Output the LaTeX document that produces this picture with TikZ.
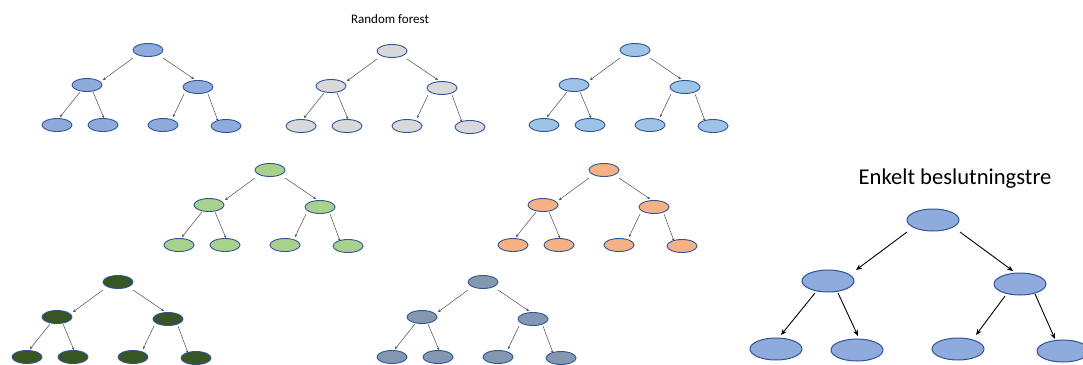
\documentclass[tikz,border=0pt]{standalone}
\usepackage{fontspec}
\setmainfont{Carlito}
\usetikzlibrary{arrows.meta,shapes.geometric}
\definecolor{outl}{HTML}{2F5597}
\definecolor{cblue}{HTML}{8FAADC}
\definecolor{cgray}{HTML}{D9D9D9}
\definecolor{clblue}{HTML}{9DC3E6}
\definecolor{cgreen}{HTML}{A9D18E}
\definecolor{corange}{HTML}{F4B183}
\definecolor{cdgreen}{HTML}{375623}
\definecolor{cslate}{HTML}{8497B0}
\tikzset{
  sm/.style={ellipse,draw=outl,line width=0.9pt,minimum width=30pt,minimum height=13pt,inner sep=0pt},
  bg/.style={ellipse,draw=outl,fill=cblue,line width=1pt,minimum width=52pt,minimum height=22pt,inner sep=0pt},
  sarr/.style={draw=black!70,line width=0.5pt,-{Stealth[length=2.8pt,width=2.6pt]}},
  barr/.style={draw=black,line width=0.9pt,-{Stealth[length=6pt,width=5pt]}},
}
\newcommand\smtree[4]{%
  \begin{scope}[shift={(#2,#3)}]
    \node[sm,fill=#4] (#1r) at (0,0) {};
    \node[sm,fill=#4] (#1a) at (-61,35) {};
    \node[sm,fill=#4] (#1b) at (50,37) {};
    \node[sm,fill=#4] (#1aa) at (-91,75) {};
    \node[sm,fill=#4] (#1ab) at (-45,75) {};
    \node[sm,fill=#4] (#1ba) at (15,75) {};
    \node[sm,fill=#4] (#1bb) at (78,76) {};
  \end{scope}
  \draw[sarr] ([shift={(-15,8)}]#1r.center) -- ([shift={(16,-5)}]#1a.center);
  \draw[sarr] ([shift={(15,8)}]#1r.center) -- ([shift={(-4,-8)}]#1b.center);
  \draw[sarr] ([shift={(-7,7)}]#1a.center) -- ([shift={(3,-8)}]#1aa.center);
  \draw[sarr] ([shift={(6,7)}]#1a.center) -- ([shift={(1,-7)}]#1ab.center);
  \draw[sarr] ([shift={(-14,7)}]#1b.center) -- ([shift={(10,-8)}]#1ba.center);
  \draw[sarr] ([shift={(10,7)}]#1b.center) -- ([shift={(-8,-5)}]#1bb.center);
}
\begin{document}
\begin{tikzpicture}[x=1pt,y=-1pt]
  \useasboundingbox (0,0) rectangle (1083,364);
  \node (rf) at (390,19) {\fontsize{13}{15}\selectfont Random forest};
  \smtree{ta}{148}{50}{cblue}
  \smtree{tb}{392}{51}{cgray}
  \smtree{tc}{635}{50}{clblue}
  \smtree{td}{270}{170}{cgreen}
  \smtree{te}{604}{170}{corange}
  \smtree{tf}{118}{282}{cdgreen}
  \smtree{tg}{483}{282}{cslate}
  % single decision tree
  \node (title) at (955,179) {\fontsize{22.6}{27}\selectfont Enkelt beslutningstre};
  \node[bg] (br) at (933,220) {};
  \node[bg] (ba) at (828,281) {};
  \node[bg] (bb) at (1020,284) {};
  \node[bg] (baa) at (776,349) {};
  \node[bg] (bab) at (857,350) {};
  \node[bg] (bba) at (958,349) {};
  \node[bg] (bbb) at (1063,351) {};
  \draw[barr] ([shift={(-26,12)}]br.center) -- ([shift={(28,-11)}]ba.center);
  \draw[barr] ([shift={(27,12)}]br.center) -- ([shift={(-7,-13)}]bb.center);
  \draw[barr] ([shift={(-13,12)}]ba.center) -- ([shift={(5,-14)}]baa.center);
  \draw[barr] ([shift={(10,12)}]ba.center) -- ([shift={(1,-14)}]bab.center);
  \draw[barr] ([shift={(-15,12)}]bb.center) -- ([shift={(18,-14)}]bba.center);
  \draw[barr] ([shift={(15,10)}]bb.center) -- ([shift={(-8,-12)}]bbb.center);
\end{tikzpicture}
\end{document}
